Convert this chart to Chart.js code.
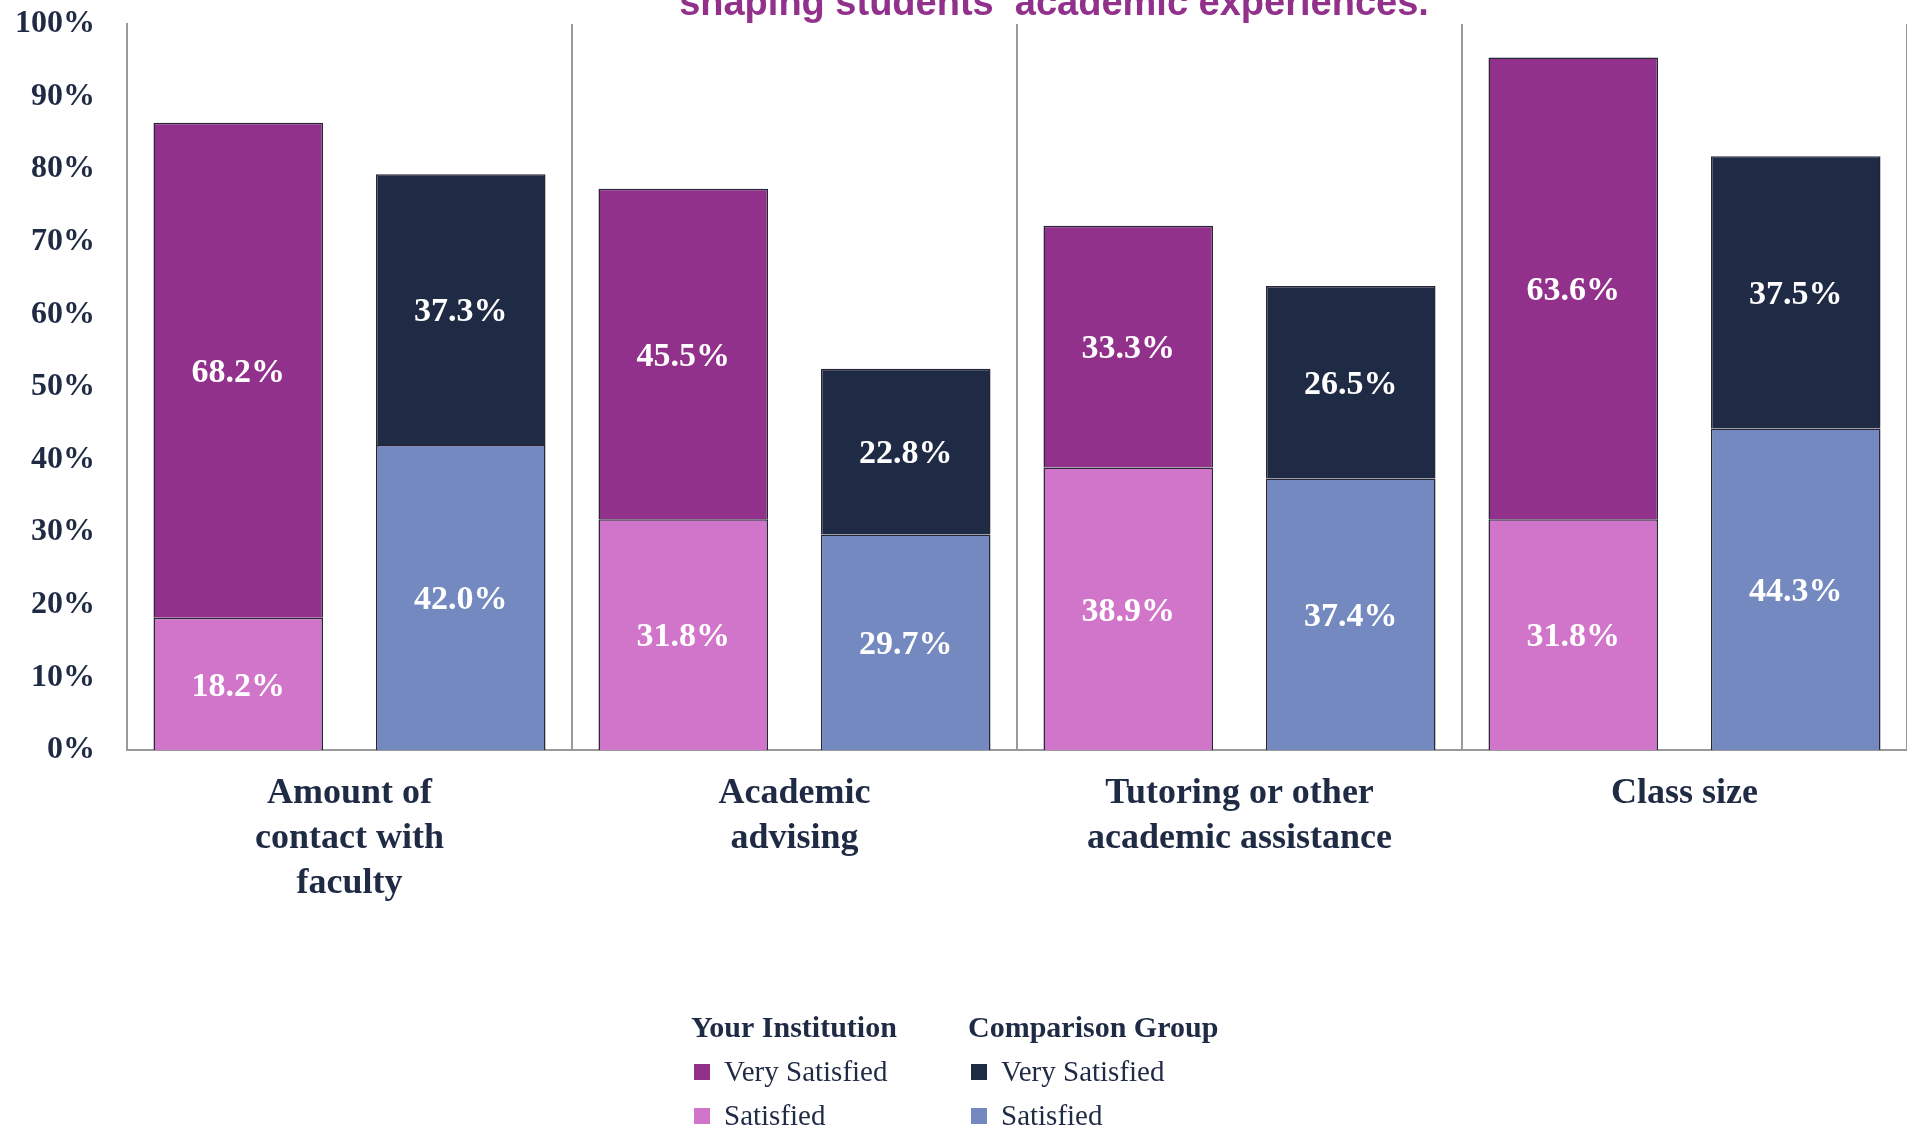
<!DOCTYPE html>
<html>
<head>
<meta charset="utf-8">
<script src="https://cdn.jsdelivr.net/npm/chart.js@4.4.1/dist/chart.umd.min.js"></script>
<style>
  html, body { margin: 0; padding: 0; background: #fff; }
  #wrap { width: 1907px; height: 1128px; }
</style>
</head>
<body>
<div id="wrap"><canvas id="myChart" width="1907" height="1128"></canvas></div>
<script>
const categories = [
  ['Amount of', 'contact with', 'faculty'],
  ['Academic', 'advising'],
  ['Tutoring or other', 'academic assistance'],
  ['Class size']
];
const groups = ['Your Institution', 'Comparison Group'];
const instSatisfied = [18.2, 31.8, 38.9, 31.8];
const instVerySatisfied = [68.2, 45.5, 33.3, 63.6];
const compSatisfied = [42.0, 29.7, 37.4, 44.3];
const compVerySatisfied = [37.3, 22.8, 26.5, 37.5];
const yTicks = [0, 10, 20, 30, 40, 50, 60, 70, 80, 90, 100];
const titleText = 'shaping students’ academic experiences.';

const navy = '#1f2a44';
const serif = '"Liberation Serif", "Times New Roman", serif';

// white value labels in the middle of every segment
const segmentLabels = {
  id: 'segmentLabels',
  afterDatasetsDraw(chart) {
    const ctx = chart.ctx;
    ctx.save();
    ctx.fillStyle = '#ffffff';
    ctx.font = 'bold 34px ' + serif;
    ctx.textAlign = 'center';
    ctx.textBaseline = 'middle';
    chart.data.datasets.forEach((set, i) => {
      chart.getDatasetMeta(i).data.forEach((bar, j) => {
        ctx.fillText(set.data[j].toFixed(1) + '%', bar.x, (bar.y + bar.base) / 2 + 3);
      });
    });
    ctx.restore();
  }
};

// title (cut off at top) and the grouped legend at the bottom
const extras = {
  id: 'extras',
  afterDraw(chart) {
    const ctx = chart.ctx;
    ctx.save();
    ctx.fillStyle = '#92318b';
    ctx.font = 'bold 38px "Liberation Sans", Arial, sans-serif';
    ctx.textAlign = 'center';
    ctx.textBaseline = 'alphabetic';
    ctx.fillText(titleText, 1054, 15, 756);

    const cols = [691, 968];
    ctx.textAlign = 'left';
    ctx.textBaseline = 'middle';
    groups.forEach((g, k) => {
      const x = cols[k];
      ctx.fillStyle = navy;
      ctx.font = 'bold 30px ' + serif;
      ctx.fillText(g, x, 1029);
      const items = chart.data.datasets.filter((d) => d.stack === g).reverse();
      items.forEach((d, n) => {
        const y = 1072 + n * 44;
        ctx.fillStyle = d.backgroundColor;
        ctx.fillRect(x + 3, y - 8, 16, 16);
        ctx.fillStyle = navy;
        ctx.font = '29px ' + serif;
        ctx.fillText(d.label, x + 33, y + 1);
      });
    });
    ctx.restore();
  }
};

function makeSet(label, data, color, stack) {
  return {
    label: label,
    data: data,
    stack: stack,
    backgroundColor: color,
    borderColor: '#262637',
    borderWidth: 1.5,
    categoryPercentage: 1.0,
    barPercentage: 0.762
  };
}

const chartData = {
  labels: categories,
  datasets: [
    makeSet('Satisfied', instSatisfied, '#d075c9', groups[0]),
    makeSet('Very Satisfied', instVerySatisfied, '#92318b', groups[0]),
    makeSet('Satisfied', compSatisfied, '#7389c0', groups[1]),
    makeSet('Very Satisfied', compVerySatisfied, '#1f2a44', groups[1])
  ]
};

const config = {
  type: 'bar',
  data: chartData,
  options: {
    responsive: false,
    animation: false,
    // right edge sits just past the canvas, so its divider is not seen
    layout: { padding: { top: 24, right: -3, bottom: 0, left: 0 } },
    plugins: {
      legend: { display: false },
      tooltip: { enabled: false }
    },
    scales: {
      x: {
        stacked: true,
        afterFit: (scale) => {
          scale.height = 378;
          scale.paddingLeft = 0;
          scale.paddingRight = 0;
        },
        grid: { display: true, offset: true, color: '#9a9a9a', lineWidth: 2, drawTicks: false },
        border: { display: true, color: '#9a9a9a', width: 2 },
        ticks: {
          color: navy,
          font: { family: serif, size: 36, weight: 'bold', lineHeight: 1.25 },
          padding: 21,
          autoSkip: false,
          maxRotation: 0
        }
      },
      y: {
        stacked: true,
        min: 0,
        max: 100,
        afterFit: (scale) => {
          scale.width = 127;
          scale.paddingTop = 0;
          scale.paddingBottom = 0;
        },
        afterBuildTicks: (scale) => { scale.ticks = yTicks.map((v) => ({ value: v })); },
        grid: { display: false, drawTicks: false },
        border: { display: true, color: '#9a9a9a', width: 2 },
        ticks: {
          color: navy,
          font: { family: serif, size: 32, weight: 'bold' },
          padding: 32,
          callback: (v) => v + '%'
        }
      }
    }
  },
  plugins: [segmentLabels, extras]
};

document.addEventListener('DOMContentLoaded', () => {
  new Chart(document.querySelector('#myChart'), config);
});
</script>
</body>
</html>
